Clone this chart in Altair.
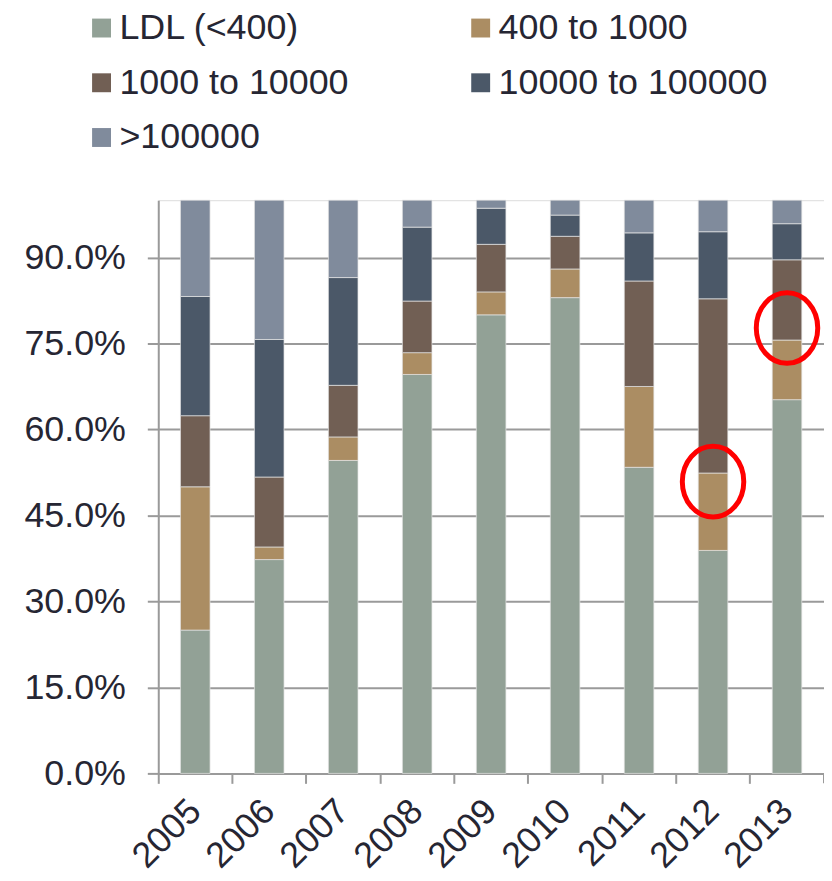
import altair as alt
import pandas as pd

years = ["2005", "2006", "2007", "2008", "2009", "2010", "2011", "2012", "2013"]
categories = ["LDL (<400)", "400 to 1000", "1000 to 10000", "10000 to 100000", ">100000"]
colors = ["#92a196", "#ab8d63", "#715f54", "#4b5868", "#808b9c"]

ldl = [25.0, 37.3, 54.6, 69.6, 80.0, 83.0, 53.4, 38.9, 65.2]
r400_1000 = [25.0, 2.2, 4.1, 3.8, 4.0, 5.0, 14.1, 13.5, 10.4]
r1000_10000 = [12.4, 12.2, 9.0, 9.0, 8.3, 5.7, 18.4, 30.4, 14.0]
r10000_100000 = [20.8, 24.0, 18.8, 12.9, 6.3, 3.7, 8.4, 11.7, 6.3]
r_over_100000 = [16.8, 24.3, 13.5, 4.7, 1.4, 2.6, 5.7, 5.5, 4.1]

y_ticks = [0.0, 0.15, 0.30, 0.45, 0.60, 0.75, 0.90]

# highlighted spots (red ellipses)
circle_years = ["2012", "2013"]
circle_pct = [0.509, 0.777]

series = [ldl, r400_1000, r1000_10000, r10000_100000, r_over_100000]
rows = []
for ci, (cat, vals) in enumerate(zip(categories, series)):
    for y, v in zip(years, vals):
        rows.append({"year": y, "cat": cat, "order": ci, "value": v / 100.0})
df = pd.DataFrame(rows)
circles = pd.DataFrame({"year": circle_years, "pct": circle_pct})

FONT = "Liberation Sans"
TXT = "#262633"
GRAY = "#9a9a9a"
W, H = 669, 576

x_enc = alt.X(
    "year:N",
    sort=years,
    scale=alt.Scale(paddingInner=0, paddingOuter=0),
    axis=alt.Axis(
        title=None,
        bandPosition=0,
        labelAngle=-45,
        labelAlign="right",
        labelBaseline="middle",
        labelPadding=22,
        labelFontSize=36,
        labelColor=TXT,
        labelFont=FONT,
        tickSize=10,
        tickColor=GRAY,
        tickWidth=2,
        domainColor=GRAY,
        domainWidth=2,
        grid=False,
    ),
)

bars = alt.Chart(df).mark_bar(
    width=alt.RelativeBandSize(0.4), stroke="#e4e4e4", strokeWidth=1, strokeOpacity=0.7
).encode(
    x=x_enc,
    y=alt.Y(
        "value:Q",
        stack="zero",
        scale=alt.Scale(domain=[0, 1], nice=False),
        axis=alt.Axis(
            title=None,
            values=y_ticks,
            format=".1%",
            labelFontSize=36,
            labelColor=TXT,
            labelFont=FONT,
            labelPadding=22,
            tickSize=11,
            tickColor=GRAY,
            tickWidth=2,
            domainColor=GRAY,
            domainWidth=2,
            grid=True,
            gridColor=GRAY,
            gridWidth=2,
        ),
    ),
    color=alt.Color(
        "cat:N",
        sort=categories,
        scale=alt.Scale(domain=categories, range=colors),
        legend=alt.Legend(
            title=None,
            orient="none",
            legendX=-75,
            legendY=-191,
            direction="horizontal",
            columns=2,
            symbolType="square",
            symbolSize=361,
            symbolStrokeWidth=0,
            labelFontSize=36,
            labelFont=FONT,
            labelColor=TXT,
            labelLimit=600,
            labelOffset=0,
            columnPadding=114,
            rowPadding=19,
            padding=0,
        ),
    ),
    order=alt.Order("order:Q", sort="ascending"),
)

ellipse_path = (
    "M -0.87 0 C -0.87 -0.5523 -0.4805 -1 0 -1 C 0.4805 -1 0.87 -0.5523 0.87 0 "
    "C 0.87 0.5523 0.4805 1 0 1 C -0.4805 1 -0.87 0.5523 -0.87 0 Z"
)
rings = alt.Chart(circles).mark_point(
    shape=ellipse_path, size=5041, filled=False, stroke="#ff0000", strokeWidth=5, opacity=1
).encode(
    x=alt.X("year:N", sort=years),
    y=alt.Y("pct:Q"),
)

end_tick = alt.Chart(pd.DataFrame({"k": [0]})).mark_rule(color=GRAY, strokeWidth=2).encode(
    x=alt.value(W), y=alt.value(H), y2=alt.value(H + 10)
)

chart = alt.layer(bars, rings, end_tick).properties(
    width=W,
    height=H,
    autosize=alt.AutoSizeParams(type="none"),
    padding={"left": 151, "top": 191, "right": 0, "bottom": 105},
).configure_view(stroke=None).configure(font=FONT)

chart.save("out.html", embed_options={"renderer": "svg", "actions": False})
